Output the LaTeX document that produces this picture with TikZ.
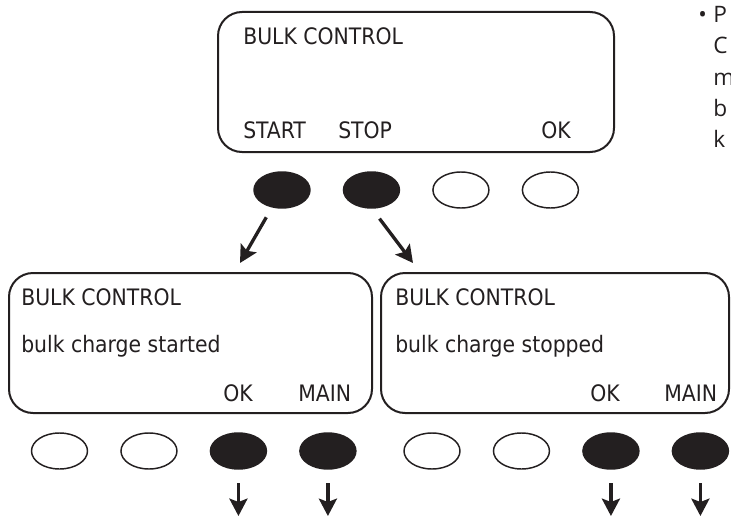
\documentclass[tikz,border=0pt]{standalone}
\usepackage{fontspec}
\setmainfont{DejaVu Sans Condensed}
\newfontfamily\notefont{Open Sans}
\usepackage{xcolor}
\usepackage{tikz}
\usetikzlibrary{shapes.geometric,arrows.meta,positioning}
\definecolor{ink}{HTML}{231F20}

\begin{document}
\begin{tikzpicture}[x=0.75pt, y=-0.75pt, node distance=25.1pt,
    screen/.style={rectangle, draw=ink, line width=1.5pt, rounded corners=18pt, inner sep=0pt},
    key/.style={ellipse, draw=ink, line width=1.1pt, minimum width=42pt, minimum height=27pt, inner sep=0pt, outer sep=0pt},
    keyon/.style={key, fill=ink},
    lbl/.style={anchor=base west, inner sep=0pt, text=ink, font=\fontsize{17}{20}\selectfont},
    note/.style={lbl, font=\notefont\fontsize{17}{20}\selectfont},
    arr/.style={draw=ink, line width=2.5pt, -{Stealth[length=13pt, width=13.5pt, inset=2.5pt]}}]
    \useasboundingbox (0,0) rectangle (731,517);

    % top screen
    \node (top) [screen, minimum width=297pt, minimum height=105pt] at (416,82) {};
    \node (topT) [lbl] at (243,45) {BULK CONTROL};
    \node (topA) [lbl] at (243,138) {START};
    \node (topB) [lbl] at (338,138) {STOP};
    \node (topC) [lbl] at (541,138) {OK};

    \node (k1) [keyon] at (282,190) {};
    \node (k2) [keyon, right=of k1] {};
    \node (k3) [key, right=of k2] {};
    \node (k4) [key, right=of k3] {};

    % side note, cut off at the edge
    \node (dot) [note] at (698,23) {•};
    \foreach \t [count=\i from 0] in {P,C,m,b,k}
        \node (note\i) [note] at (713,23+31*\i) {\t};

    % started
    \node (scrL) [screen, minimum width=272.25pt, minimum height=105pt] at (190.5,343) {};
    \node (scrLT) [lbl] at (21,305) {BULK CONTROL};
    \node (scrLM) [lbl] at (21,352) {bulk charge started};
    \node (scrLA) [lbl] at (223,401) {OK};
    \node (scrLB) [lbl] at (298,401) {MAIN};

    \node (m1) [key] at (59.5,451) {};
    \node (m2) [key, right=of m1] {};
    \node (m3) [keyon, right=of m2] {};
    \node (m4) [keyon, right=of m3] {};

    % stopped
    \node (scrR) [screen, minimum width=261pt, minimum height=105pt] at (555,343) {};
    \node (scrRT) [lbl] at (395,305) {BULK CONTROL};
    \node (scrRM) [lbl] at (395,352) {bulk charge stopped};
    \node (scrRA) [lbl] at (590,401) {OK};
    \node (scrRB) [lbl] at (664,401) {MAIN};

    \node (n1) [key] at (432,451) {};
    \node (n2) [key, right=of n1] {};
    \node (n3) [keyon, right=of n2] {};
    \node (n4) [keyon, right=of n3] {};

    \coordinate (tipL) at (240,263);
    \coordinate (tipR) at (413,263);
    \draw [arr, shorten <=9pt] (k1) -- (tipL);
    \draw [arr, shorten <=10pt] (k2.south) -- (tipR);

    \foreach \k in {m3,m4,n3,n4}
        \draw [arr, shorten <=10.5pt] (\k.south) -- ++(0,47);
\end{tikzpicture}
\end{document}
